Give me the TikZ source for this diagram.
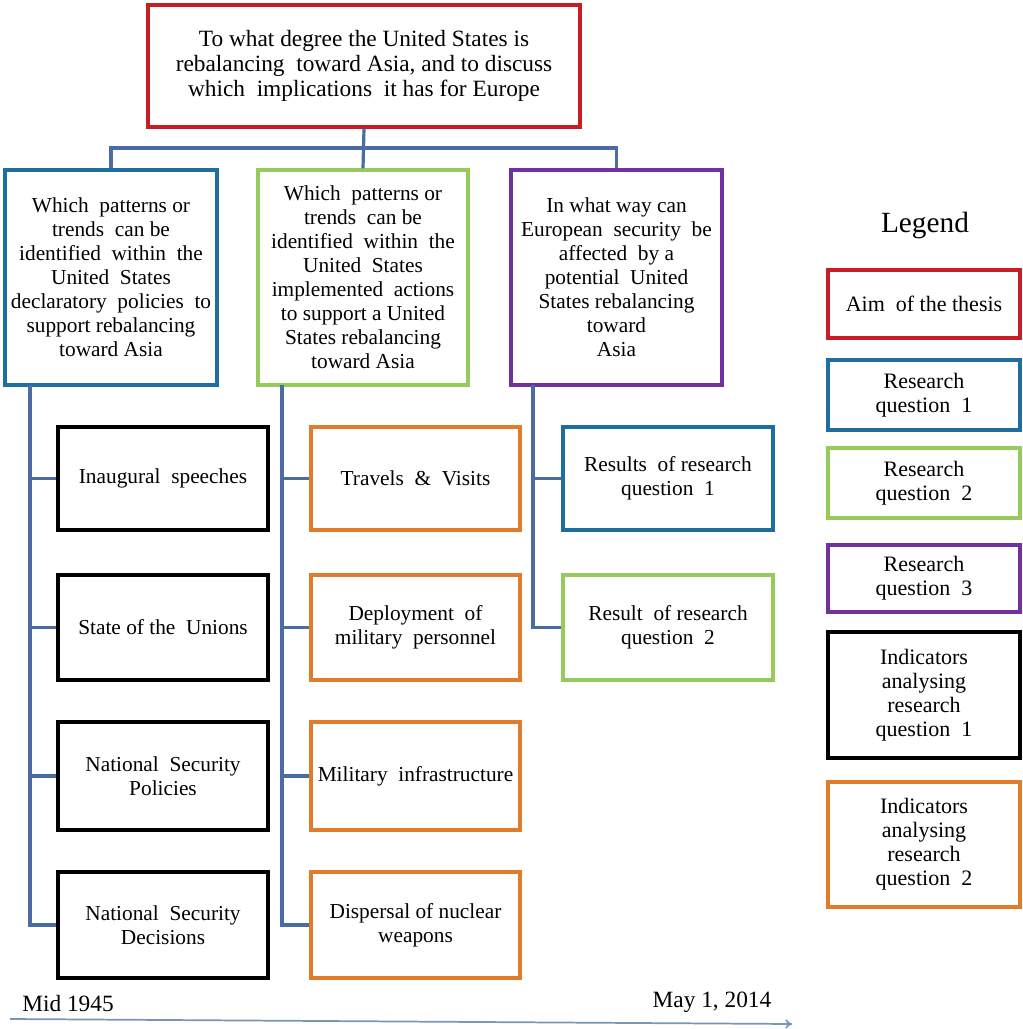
\documentclass[tikz,border=0pt]{standalone}
\usepackage{fontspec}
\setmainfont{Liberation Serif}
\usetikzlibrary{arrows.meta}
\definecolor{cred}{RGB}{200,28,36}
\definecolor{cblue}{RGB}{30,110,160}
\definecolor{cgreen}{RGB}{150,202,90}
\definecolor{cpurple}{RGB}{112,48,160}
\definecolor{corange}{RGB}{224,124,44}
\definecolor{cconn}{RGB}{74,108,162}
\definecolor{carrow}{RGB}{120,150,182}
\tikzset{
  box/.style 2 args={draw, line width=2.4pt, fill=white, align=center, inner sep=1pt,
     minimum width=#1*0.75pt, minimum height=#2*0.75pt, font=\fontsize{16}{18}\selectfont},
  aimbox/.style={draw=cred},
  rqone/.style={draw=cblue},
  rqtwo/.style={draw=cgreen},
  rqthree/.style={draw=cpurple},
  indone/.style={draw=black},
  indtwo/.style={draw=corange},
  legfont/.style={font=\fontsize{16.5}{18}\selectfont},
  conn/.style={draw=cconn, line width=2.4pt},
  lbl/.style={font=\fontsize{17.5}{20}\selectfont, inner sep=0pt},
}
\begin{document}
\begin{tikzpicture}[x=0.75pt, y=-0.75pt]
\useasboundingbox (0,0) rectangle (1022,1029);
% top
\node[box={432}{122}, aimbox, font=\fontsize{17.5}{18.5}\selectfont] (top) at (364,66) {To what degree the United States is\\rebalancing \ toward Asia, and to discuss\\which \ implications \ it has for Europe};
% research questions
\node[box={212}{215}, rqone] (b1) at (111,277.5) {Which \ patterns or\\trends \ can be\\identified \ within \ the\\United \ States\\declaratory \ policies \ to\\support rebalancing\\toward Asia};
\node[box={210}{215}, rqtwo] (b2) at (363,277.5) {Which \ patterns or\\trends \ can be\\identified \ within \ the\\United \ States\\implemented \ actions\\to support a United\\States rebalancing\\toward Asia};
\node[box={211}{215}, rqthree] (b3) at (616.5,277.5) {In what way can\\European \ security \ be\\affected \ by a\\potential \ United\\States rebalancing\\toward\\Asia};
% indicators column 1
\node[box={210}{103}, indone] (i1) at (163,478.5) {Inaugural \ speeches};
\node[box={210}{105}, indone] (i2) at (163,627.5) {State of the \ Unions};
\node[box={210}{108}, indone] (i3) at (163,776) {National \ Security\\Policies};
\node[box={210}{106}, indone] (i4) at (163,925) {National \ Security\\Decisions};
% indicators column 2
\node[box={209}{103}, indtwo] (j1) at (415.5,478.5) {Travels \ \& \ Visits};
\node[box={209}{105}, indtwo] (j2) at (415.5,627.5) {Deployment \ of\\military \ personnel};
\node[box={209}{108}, indtwo] (j3) at (415.5,776) {Military \ infrastructure};
\node[box={209}{106}, indtwo] (j4) at (415.5,925) {Dispersal of nuclear\\weapons};
% results column 3
\node[box={210}{103}, rqone] (r1) at (668,478.5) {Results \ of research\\question \ 1};
\node[box={210}{105}, rqtwo] (r2) at (668,627.5) {Result \ of research\\question \ 2};
% connectors
\coordinate (bus) at (0,148);
\draw[conn] (top.south) -- (b2.north);
\draw[conn] (b1.north) -- (b1.north |- bus) -- (b3.north |- bus) -- (b3.north);
\coordinate (s1) at (30,385);
\coordinate (s2) at (282,385);
\coordinate (s3) at (533,385);
\draw[conn] (s1) |- (i4.west);
\foreach \n in {i1,i2,i3} \draw[conn] (s1 |- \n.west) -- (\n.west);
\draw[conn] (s2) |- (j4.west);
\foreach \n in {j1,j2,j3} \draw[conn] (s2 |- \n.west) -- (\n.west);
\draw[conn] (s3) |- (r2.west);
\draw[conn] (s3 |- r1.west) -- (r1.west);
% legend
\node[font=\fontsize{22}{24}\selectfont] (leg) at (925,225) {Legend};
\node[box={192}{68}, aimbox, legfont] (l0) at (924,304) {Aim \ of the thesis};
\node[box={192}{70}, rqone, legfont] (l1) at (924,395) {Research\\question \ 1};
\node[box={192}{70}, rqtwo, legfont] (l2) at (924,483) {Research\\question \ 2};
\node[box={192}{67}, rqthree, legfont] (l3) at (924,578.5) {Research\\question \ 3};
\node[box={192}{126}, indone, legfont] (l4) at (924,695) {Indicators\\analysing\\research\\question \ 1};
\node[box={192}{125}, indtwo, legfont] (l5) at (924,844.5) {Indicators\\analysing\\research\\question \ 2};
% time axis
\coordinate (a0) at (10,1019);
\coordinate (a1) at (792,1024);
\draw[carrow, line width=1.3pt, -{To[length=5pt,width=7pt]}] (a0) -- (a1);
\node[lbl] (t0) at (68,1004) {Mid 1945};
\node[lbl] (t1) at (712,1002) {May 1, 2014};
\end{tikzpicture}
\end{document}
